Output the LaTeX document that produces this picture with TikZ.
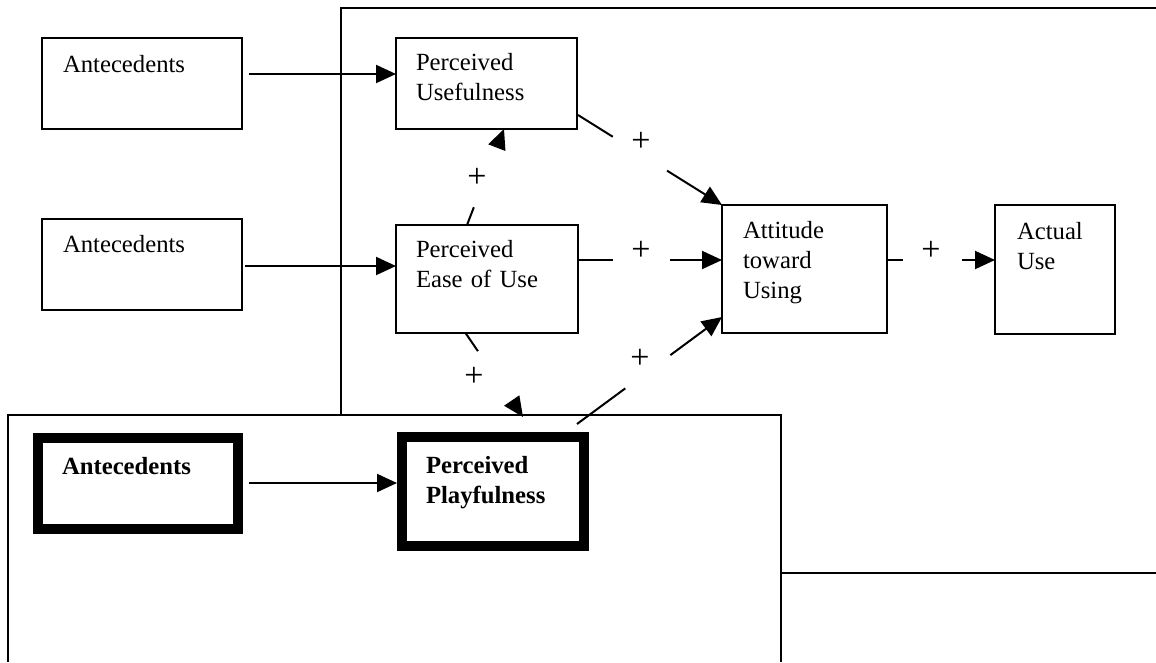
\documentclass[tikz,border=0pt]{standalone}
\usepackage{fontspec}
\setmainfont{Liberation Serif}
\usetikzlibrary{arrows.meta}
\begin{document}
\begin{tikzpicture}[x=1pt, y=-1pt,
  box/.style={draw, line width=2pt, outer sep=0pt, inner ysep=0pt,
    align=left, anchor=north west, font=\fontsize{24.7}{30}\selectfont},
  boldbox/.style={box, line width=10pt,
    font=\fontsize{24.7}{30}\selectfont\bfseries},
  link/.style={line width=2pt, -{Triangle[length=20pt, width=18pt]}},
  plus/.style={font=\fontsize{34}{34}\selectfont, inner sep=0pt}]

\useasboundingbox (0,0) rectangle (1156,662);
\fill[white] (0,0) rectangle (1156,662);

% outer frames
\draw[line width=2pt] (1156,8) -- (341,8) -- (341,573) -- (1156,573);
\filldraw[fill=white, line width=2pt] (8,662) -- (8,415) -- (781,415) -- (781,662);

% construct boxes
\node[box, inner xsep=21pt, text width=158pt, text height=34pt, text depth=57pt]
  (ant1) at (42,38) {Antecedents};
\node[box, inner xsep=20pt, text width=141pt, text height=32pt, text depth=59pt]
  (pu) at (396,38) {Perceived\\Usefulness};
\node[box, inner xsep=21pt, text width=158pt, text height=33pt, text depth=58pt]
  (ant2) at (42,219) {Antecedents};
\node[box, inner xsep=20pt, text width=142pt, text height=32pt, text depth=76pt]
  (peou) at (396,225) {Perceived\\Ease of Use};
\node[box, inner xsep=21pt, text width=123pt, text height=33pt, text depth=95pt]
  (att) at (722,205) {Attitude\\toward\\Using};
\node[box, inner xsep=22pt, text width=76pt, text height=34pt, text depth=95pt]
  (au) at (995,205) {Actual\\Use};
\node[boldbox, inner xsep=24pt, text width=152pt, text height=36.5pt, text depth=54.5pt]
  (antb) at (38,437.5) {Antecedents};
\node[boldbox, inner xsep=24pt, text width=134pt, text height=36pt, text depth=73pt]
  (ppl) at (402,437) {Perceived\\Playfulness};

% antecedent links
\draw[link] ([shift={(7,-9.5)}]ant1.east) -- ([shift={(0,-9.5)}]pu.west);
\draw[link] ([shift={(3,1.5)}]ant2.east) -- ([shift={(0,-13)}]peou.west);
\draw[link] ([shift={(11,0)}]antb.east) -- ([shift={(-5,-8.5)}]ppl.west);

% signed paths (gaps leave room for the + signs)
\draw[link, dash pattern=on 19pt off 300pt]
  ([shift={(-20,0)}]peou.north) -- ([shift={(17.5,0)}]pu.south);
\draw[link, dash pattern=on 41pt off 64pt on 300pt]
  ([shift={(1,31.5)}]pu.east) -- (att.north west);
\draw[link, dash pattern=on 35pt off 57pt on 300pt]
  ([shift={(0,-19)}]peou.east) -- ([shift={(0,-9)}]att.west);
\draw[link, dash pattern=on 60pt off 56pt on 300pt]
  ([shift={(-7,-13)}]ppl.north east) -- ([shift={(0,-16)}]att.south west);
\draw[link, dash pattern=on 16pt off 59pt on 300pt]
  ([shift={(0,-9)}]att.east) -- ([shift={(0,-9.5)}]au.west);
\draw[link, dash pattern=on 22pt off 300pt]
  ([shift={(-21.5,0)}]peou.south) -- ([shift={(30,-20)}]ppl.north);

% signs
\node[plus] (s1) at (477,178) {+};
\node[plus] (s2) at (641,142) {+};
\node[plus] (s3) at (641,251) {+};
\node[plus] (s4) at (640,359) {+};
\node[plus] (s5) at (931,251) {+};
\node[plus] (s6) at (474,377) {+};
\end{tikzpicture}
\end{document}
